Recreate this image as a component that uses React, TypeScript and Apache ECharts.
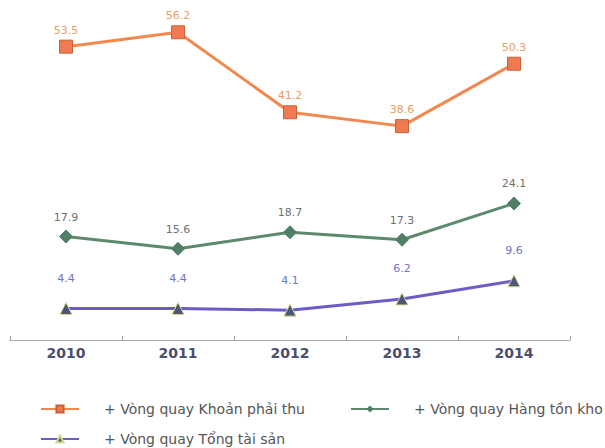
import React, { useEffect, useRef } from "react";
import * as echarts from "echarts";

const years = ["2010", "2011", "2012", "2013", "2014"];
const receivables = [53.5, 56.2, 41.2, 38.6, 50.3];
const inventory = [17.9, 15.6, 18.7, 17.3, 24.1];
const totalAssets = [4.4, 4.4, 4.1, 6.2, 9.6];
const names = [
  "Vòng quay Khoản phải thu",
  "Vòng quay Hàng tồn kho",
  "Vòng quay Tổng tài sản",
];

export default function App() {
  const ref = useRef<HTMLDivElement>(null);
  useEffect(() => {
    document.body.style.margin = "0";
    if (!ref.current) return;
    const chart = echarts.init(ref.current, null, { renderer: "svg" });
    const font = "DejaVu Sans";
    const legendBase = {
      orient: "horizontal",
      itemWidth: 38,
      itemHeight: 9,
      formatter: (n: string) => "+ " + n,
      textStyle: {
        fontFamily: font,
        fontSize: 14,
        color: "#555",
        padding: [0, 0, 0, 20],
      },
    };
    chart.setOption({
      animation: false,
      backgroundColor: "#fff",
      grid: { left: 10, right: 35, top: 12, height: 328 },
      xAxis: {
        type: "category",
        data: years,
        boundaryGap: true,
        axisLine: { onZero: false, lineStyle: { color: "#aaa", width: 1 } },
        axisTick: { show: true, inside: true, length: 4, lineStyle: { color: "#999" } },
        axisLabel: {
          fontFamily: font,
          fontSize: 14,
          fontWeight: "bold",
          color: "#4d4d6b",
          margin: 6,
        },
      },
      yAxis: {
        type: "value",
        min: -1.5,
        max: 60,
        show: false,
        splitLine: { show: false },
      },
      legend: [
        { ...legendBase, left: 35, top: 397, data: [names[0]] },
        { ...legendBase, left: 345, top: 397, data: [names[1]] },
        { ...legendBase, left: 35, top: 427, data: [names[2]] },
      ],
      series: [
        {
          name: names[0],
          type: "line",
          data: receivables,
          symbol: "rect",
          symbolSize: 13,
          lineStyle: { color: "#F3884F", width: 3 },
          itemStyle: { color: "#F07A52", borderColor: "#C9603A", borderWidth: 1 },
          label: {
            show: true,
            position: "top",
            distance: 4,
            fontFamily: font,
            fontSize: 11,
            color: "#E6A063",
          },
        },
        {
          name: names[1],
          type: "line",
          data: inventory,
          symbol: "diamond",
          symbolSize: 13,
          lineStyle: { color: "#5E8A6C", width: 3 },
          itemStyle: { color: "#4F7F67", borderColor: "#4F7F67" },
          label: {
            show: true,
            position: "top",
            distance: 7,
            fontFamily: font,
            fontSize: 11,
            color: "#6f6f6f",
          },
        },
        {
          name: names[2],
          type: "line",
          data: totalAssets,
          symbol: "triangle",
          symbolSize: 12,
          lineStyle: { color: "#6A5CC8", width: 3 },
          itemStyle: { color: "#4C5677", borderColor: "#D8D890", borderWidth: 1 },
          label: {
            show: true,
            position: "top",
            distance: 18,
            fontFamily: font,
            fontSize: 11,
            color: "#6F74C8",
          },
        },
      ],
    });
    return () => chart.dispose();
  }, []);
  return <div ref={ref} style={{ width: 605, height: 448 }} />;
}
